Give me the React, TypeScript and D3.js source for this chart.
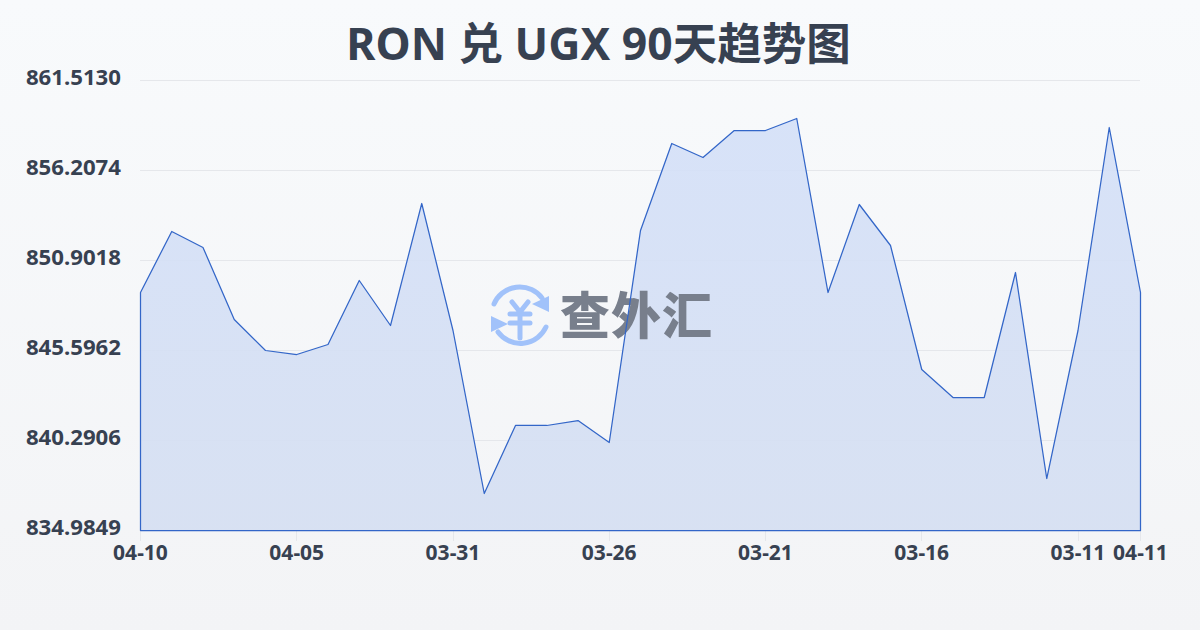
import React from "react";
import * as d3 from "d3";

const values = [849.015,852.611,851.668,847.424,845.596,845.360,845.950,849.723,847.070,854.262,846.775,837.166,841.175,841.175,841.469,840.172,852.670,857.799,856.974,858.565,858.565,859.273,849.015,854.203,851.786,844.476,842.825,842.825,850.194,838.050,846.775,858.742,849.015];
const yTicks = [861.513,856.2074,850.9018,845.5962,840.2906,834.9849];
const xTickIndex = [0,5,10,15,20,25,30,32];
const xTickLabels = ["04-10","04-05","03-31","03-26","03-21","03-16","03-11","04-11"];
const title = "RON 兑 UGX 90天趋势图";
const brand = "查外汇";

const FONT = "'Noto Sans','Noto Sans CJK SC',sans-serif";
const CJK = "'Noto Sans CJK SC',sans-serif";
const INK = "#374151";

export default function App() {
  const x = d3.scaleLinear().domain([0, values.length - 1]).range([140.5, 1140.5]);
  const y = d3.scaleLinear().domain([834.9849, 861.513]).range([530.5, 80.5]);
  const area = d3.area<number>().x((_, i) => x(i)).y0(530.5).y1((d) => y(d))(values) as string;
  return (
    <svg width={1200} height={630} viewBox="0 0 1200 630" style={{ position: "fixed", left: 0, top: 0, display: "block" }}>
      <defs>
        <linearGradient id="bg" x1="0" y1="0" x2="0" y2="1">
          <stop offset="0" stopColor="#f8fafc" />
          <stop offset="1" stopColor="#f3f4f6" />
        </linearGradient>
        <linearGradient id="fill" x1="0" y1="0" x2="0" y2="1">
          <stop offset="0" stopColor="#d4e0f8" />
          <stop offset="1" stopColor="#d5dff2" />
        </linearGradient>
      </defs>
      <rect width={1200} height={630} fill="url(#bg)" />
      <text x={598.5} y={60} textAnchor="middle" fontFamily={FONT} fontWeight={700} fontSize={44.5} fill={INK}>{title}</text>
      {yTicks.slice(0, 5).map((t) => (
        <line key={t} x1={140} x2={1140} y1={Math.floor(y(t)) + 0.5} y2={Math.floor(y(t)) + 0.5} stroke="#e5e7eb" strokeWidth={1} />
      ))}
      {yTicks.map((t) => (
        <text key={t} x={121} y={y(t) + 4.5} textAnchor="end" fontFamily={FONT} fontWeight={700} fontSize={22.2} fill={INK}>{t.toFixed(4)}</text>
      ))}
      {xTickIndex.map((idx, i) => (
        <g key={idx}>
          <line x1={Math.floor(x(idx)) + 0.5} x2={Math.floor(x(idx)) + 0.5} y1={530} y2={541} stroke="#e5e7eb" />
          <text x={x(idx)} y={560} textAnchor="middle" fontFamily={FONT} fontWeight={700} fontSize={21} fill={INK}>{xTickLabels[i]}</text>
        </g>
      ))}
      <path d={area} fill="url(#fill)" fillOpacity={0.9} stroke="none" />
      <g>
        <g fill="none" stroke="#a1c2fa" strokeWidth={5} strokeLinecap="round">
          <path d="M494 304 A28 28 0 0 1 542 298" />
          <path d="M546 327 A28 28 0 0 1 498 332" />
          <path d="M512 302 L520 312 L528 302 M510 314 H530 M510 323 H530 M520 312 V338" />
        </g>
        <path d="M549 296 V312 L532 304 Z" fill="#a1c2fa" />
        <path d="M491 316 L508 324 L491 332 Z" fill="#a1c2fa" />
        <text x={560} y={334} fontFamily={CJK} fontWeight={900} fontSize={50} fill="#787f8c" textLength={152}>{brand}</text>
      </g>
      <path d={area} fill="none" stroke="#3366c8" strokeWidth={1.25} strokeLinejoin="round" />
    </svg>
  );
}
